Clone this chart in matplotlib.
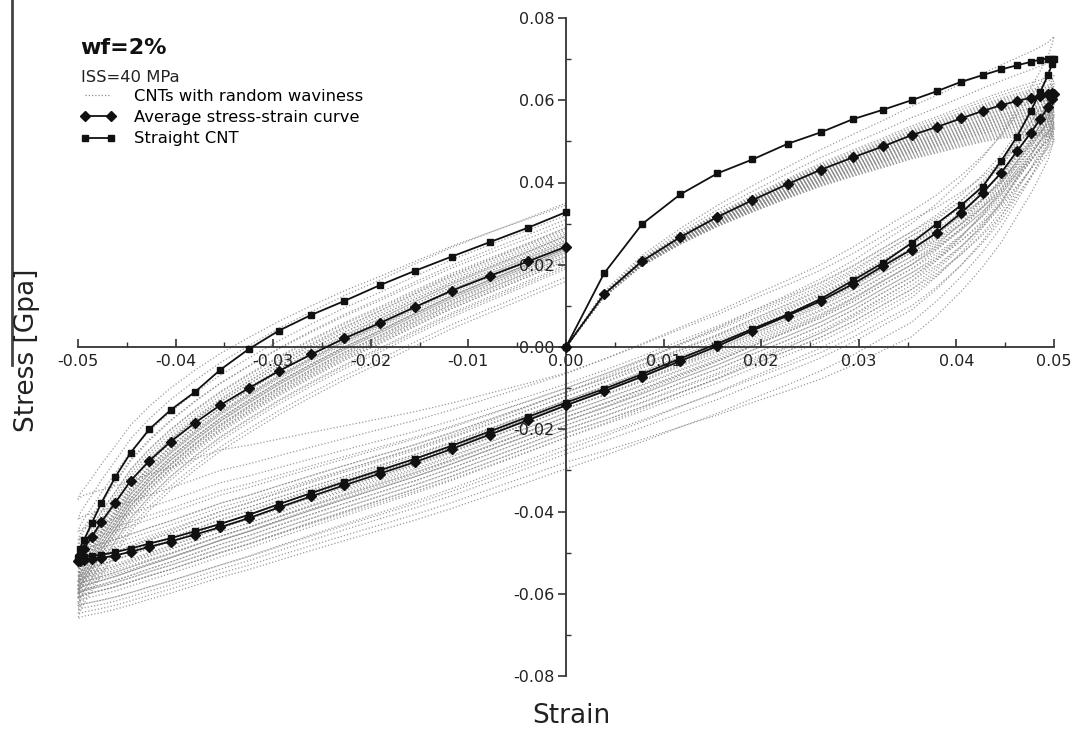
#!/usr/bin/env python3
"""
Hysteresis stress-strain loops of CNT composites (wf=2%, ISS=40 MPa).

Straight CNT, average curve and the fan of curves for CNTs with random waviness.
"""

import numpy as np
import matplotlib
matplotlib.use('Agg')
import matplotlib.pyplot as plt
from matplotlib.lines import Line2D
from matplotlib.ticker import MultipleLocator, FormatStrFormatter

# Strain path: 0 -> 0.05 -> -0.05 -> 0 (same sampling for every curve)
strain = [
    0.0, 0.0039, 0.0078, 0.0117, 0.0155, 0.0191, 0.0227, 0.0261, 0.0294, 0.0325,
    0.0354, 0.0380, 0.0405, 0.0427, 0.0446, 0.0462, 0.0476, 0.0486, 0.0494, 0.0498, 0.0500,
    0.0498, 0.0494, 0.0486, 0.0476, 0.0462, 0.0446, 0.0427, 0.0405, 0.0380, 0.0354,
    0.0325, 0.0294, 0.0261, 0.0227, 0.0191, 0.0155, 0.0117, 0.0078, 0.0039, 0.0,
    -0.0039, -0.0078, -0.0117, -0.0155, -0.0191, -0.0227, -0.0261, -0.0294, -0.0325, -0.0354,
    -0.0380, -0.0405, -0.0427, -0.0446, -0.0462, -0.0476, -0.0486, -0.0494, -0.0498, -0.0500,
    -0.0498, -0.0494, -0.0486, -0.0476, -0.0462, -0.0446, -0.0427, -0.0405, -0.0380, -0.0354,
    -0.0325, -0.0294, -0.0261, -0.0227, -0.0191, -0.0155, -0.0117, -0.0078, -0.0039, 0.0,
]

# Straight CNT (squares)
straight_stress = [
    0.0, 0.0179, 0.0299, 0.0371, 0.0422, 0.0456, 0.0494, 0.0522, 0.0554, 0.0577,
    0.0600, 0.0622, 0.0645, 0.0661, 0.0675, 0.0685, 0.0693, 0.0699, 0.0701, 0.0701, 0.0700,
    0.0688, 0.0662, 0.0621, 0.0573, 0.0511, 0.0453, 0.0390, 0.0345, 0.0300, 0.0253,
    0.0205, 0.0162, 0.0117, 0.0079, 0.0044, 0.0008, -0.0028, -0.0066, -0.0102, -0.0135,
    -0.0170, -0.0205, -0.0240, -0.0272, -0.0300, -0.0328, -0.0355, -0.0382, -0.0408, -0.0430,
    -0.0448, -0.0465, -0.0478, -0.0490, -0.0499, -0.0505, -0.0508, -0.0510, -0.0512, -0.0513,
    -0.0490, -0.0470, -0.0429, -0.0379, -0.0317, -0.0257, -0.0200, -0.0153, -0.0109, -0.0055,
    -0.0005, 0.0040, 0.0078, 0.0112, 0.0150, 0.0185, 0.0220, 0.0255, 0.0290, 0.0328,
]

# Average stress-strain curve (diamonds)
average_stress = [
    0.0, 0.0128, 0.0209, 0.0267, 0.0316, 0.0357, 0.0396, 0.0431, 0.0461, 0.0488,
    0.0515, 0.0535, 0.0556, 0.0574, 0.0588, 0.0598, 0.0606, 0.0611, 0.0615, 0.0617, 0.0615,
    0.0604, 0.0583, 0.0555, 0.0520, 0.0476, 0.0424, 0.0375, 0.0326, 0.0278, 0.0237,
    0.0197, 0.0153, 0.0112, 0.0076, 0.0040, 0.0002, -0.0034, -0.0072, -0.0108, -0.0142,
    -0.0178, -0.0213, -0.0248, -0.0280, -0.0308, -0.0336, -0.0363, -0.0390, -0.0416, -0.0438,
    -0.0456, -0.0473, -0.0486, -0.0498, -0.0507, -0.0513, -0.0516, -0.0518, -0.0520, -0.0520,
    -0.0505, -0.0490, -0.0462, -0.0425, -0.0379, -0.0325, -0.0277, -0.0230, -0.0184, -0.0141,
    -0.0100, -0.0058, -0.0018, 0.0021, 0.0058, 0.0097, 0.0137, 0.0173, 0.0208, 0.0244,
]

# Wavy CNT curves, stress read at points along the loop:
# +0.05 (peak), 0.0354 unloading, 0 unloading, -0.0354 unloading, -0.05, 0 after reloading
gray_peak = [0.0755, 0.0700, 0.0660, 0.0650, 0.0640, 0.0635, 0.0630, 0.0625, 0.0620, 0.0615,
             0.0610, 0.0605, 0.0600, 0.0598, 0.0595, 0.0590, 0.0585, 0.0582, 0.0580, 0.0575,
             0.0572, 0.0570, 0.0565, 0.0562, 0.0560, 0.0555, 0.0552, 0.0550, 0.0545, 0.0542,
             0.0540, 0.0535, 0.0532, 0.0530, 0.0525, 0.0520, 0.0515, 0.0510, 0.0505, 0.0500]
gray_unload = [0.0300, 0.0330, 0.0280, 0.0250, 0.0200, 0.0270, 0.0160, 0.0230, 0.0260, 0.0190,
               0.0240, 0.0120, 0.0220, 0.0280, 0.0170, 0.0210, 0.0250, 0.0140, 0.0200, 0.0310,
               0.0230, 0.0090, 0.0180, 0.0240, 0.0150, 0.0270, 0.0200, 0.0060, 0.0170, 0.0220,
               0.0130, 0.0250, 0.0190, 0.0100, 0.0210, 0.0160, 0.0230, 0.0025, 0.0180, 0.0140]
gray_mid = [-0.0110, -0.0065, -0.0100, -0.0130, -0.0180, -0.0120, -0.0220, -0.0150, -0.0110, -0.0170,
            -0.0140, -0.0250, -0.0150, -0.0090, -0.0190, -0.0160, -0.0120, -0.0210, -0.0170, -0.0063,
            -0.0140, -0.0260, -0.0180, -0.0130, -0.0200, -0.0100, -0.0160, -0.0296, -0.0190, -0.0140,
            -0.0220, -0.0110, -0.0170, -0.0240, -0.0150, -0.0200, -0.0130, -0.0280, -0.0180, -0.0210]
gray_lower = [-0.0400, -0.0300, -0.0360, -0.0420, -0.0470, -0.0390, -0.0500, -0.0440, -0.0380, -0.0460,
              -0.0430, -0.0530, -0.0450, -0.0330, -0.0480, -0.0450, -0.0400, -0.0500, -0.0460, -0.0250,
              -0.0420, -0.0540, -0.0470, -0.0410, -0.0490, -0.0350, -0.0460, -0.0560, -0.0480, -0.0430,
              -0.0510, -0.0380, -0.0470, -0.0530, -0.0440, -0.0490, -0.0410, -0.0550, -0.0470, -0.0500]
gray_trough = [-0.0540, -0.0420, -0.0480, -0.0560, -0.0590, -0.0510, -0.0610, -0.0570, -0.0500, -0.0580,
               -0.0550, -0.0630, -0.0560, -0.0450, -0.0600, -0.0570, -0.0520, -0.0610, -0.0580, -0.0370,
               -0.0540, -0.0640, -0.0590, -0.0530, -0.0600, -0.0470, -0.0570, -0.0660, -0.0600, -0.0550,
               -0.0620, -0.0500, -0.0580, -0.0630, -0.0560, -0.0600, -0.0530, -0.0650, -0.0590, -0.0610]
gray_end = [0.0290, 0.0350, 0.0310, 0.0270, 0.0240, 0.0280, 0.0220, 0.0255, 0.0285, 0.0240,
            0.0260, 0.0200, 0.0250, 0.0320, 0.0230, 0.0245, 0.0275, 0.0215, 0.0240, 0.0345,
            0.0265, 0.0190, 0.0235, 0.0270, 0.0225, 0.0300, 0.0250, 0.0160, 0.0230, 0.0260,
            0.0210, 0.0290, 0.0240, 0.0195, 0.0255, 0.0220, 0.0270, 0.0170, 0.0235, 0.0210]

xticks = [-0.05, -0.04, -0.03, -0.02, -0.01, 0.0, 0.01, 0.02, 0.03, 0.04, 0.05]
yticks = [-0.08, -0.06, -0.04, -0.02, 0.0, 0.02, 0.04, 0.06, 0.08]


def main():
    W, H = 1073, 729
    fig = plt.figure(figsize=(W / 100, H / 100), dpi=100)
    # axes box = data range, spines drawn through the origin
    ax = fig.add_axes([78 / W, 1 - 676 / H, (1054 - 78) / W, (676 - 18) / H])

    x = np.array(strain)
    avg = np.array(average_stress)

    # Wavy CNT fan: average loop shape pinned to the values read for each curve
    read_idx = [0, 20, 30, 40, 50, 60, 80]
    idx = np.arange(len(x))
    for vals in zip(gray_peak, gray_unload, gray_mid, gray_lower, gray_trough, gray_end):
        offs = [0.0] + [v - avg[i] for v, i in zip(vals, read_idx[1:])]
        y = avg + np.interp(idx, read_idx, offs)
        ax.plot(x, y, color='#8a8a8a', linewidth=0.9, linestyle=(0, (1, 1.6)),
                alpha=0.85, zorder=1, clip_on=False)

    ax.plot(x, avg, color='#111111', linewidth=1.3, marker='D', markersize=5,
            zorder=3, clip_on=False)
    ax.plot(x, straight_stress, color='#111111', linewidth=1.3, marker='s', markersize=5,
            zorder=4, clip_on=False)

    ax.set_xlim(-0.05, 0.05)
    ax.set_ylim(-0.08, 0.08)

    # Spines through the origin
    for side in ['top', 'right']:
        ax.spines[side].set_visible(False)
    ax.spines['left'].set_position(('data', 0))
    ax.spines['bottom'].set_position(('data', 0))
    for side in ['left', 'bottom']:
        ax.spines[side].set_color('#333333')
        ax.spines[side].set_linewidth(1.3)

    ax.set_xticks(xticks)
    ax.set_yticks(yticks)
    ax.xaxis.set_minor_locator(MultipleLocator(0.005))
    ax.yaxis.set_minor_locator(MultipleLocator(0.01))
    ax.xaxis.set_major_formatter(FormatStrFormatter('%.2f'))
    ax.yaxis.set_major_formatter(FormatStrFormatter('%.2f'))
    ax.tick_params(axis='x', which='both', direction='in', colors='#333333', labelcolor='#222222',
                   labelsize=11.5, pad=5)
    ax.tick_params(axis='x', which='major', length=6, width=1.2)
    ax.tick_params(axis='x', which='minor', length=3.5, width=1.0)
    ax.tick_params(axis='y', which='both', colors='#333333', labelcolor='#222222',
                   labelsize=11.5, pad=2)
    ax.tick_params(axis='y', which='major', direction='out', length=6, width=1.2)
    ax.tick_params(axis='y', which='minor', direction='in', length=3.5, width=1.0)
    ax.patch.set_visible(False)

    # Axis titles
    fig.text(571 / W, 1 - 723 / H, 'Strain', fontsize=19, ha='center', va='baseline', color='#222222')
    fig.text(27 / W, 1 - 350 / H, 'Stress [Gpa]', fontsize=19, rotation=90,
             ha='center', va='center', color='#222222')

    # Frame fragment at the left edge
    fig.add_artist(Line2D([12 / W, 12 / W], [1.0, 1 - 365 / H], transform=fig.transFigure,
                          color='#444444', linewidth=2))

    # Legend block
    fig.text(80 / W, 1 - 48 / H, 'wf=2%', fontsize=16, fontweight='bold',
             ha='left', va='center', color='#111111')
    fig.text(81 / W, 1 - 77 / H, 'ISS=40 MPa', fontsize=11.8, ha='left', va='center', color='#222222')

    legend_elements = [
        Line2D([0], [0], color='#8a8a8a', linewidth=0.9, linestyle=(0, (1, 1.6)),
               label='CNTs with random waviness'),
        Line2D([0], [0], color='#111111', linewidth=1.3, marker='D', markersize=5,
               label='Average stress-strain curve'),
        Line2D([0], [0], color='#111111', linewidth=1.3, marker='s', markersize=5,
               label='Straight CNT'),
    ]
    fig.legend(handles=legend_elements, loc='upper left',
               bbox_to_anchor=(80 / W, 1 - 89 / H), bbox_transform=fig.transFigure,
               frameon=False, fontsize=11.8, numpoints=2, handlelength=2.2,
               handletextpad=1.1, labelspacing=0.38, borderpad=0, borderaxespad=0)

    plt.savefig('out.png', dpi=100)


if __name__ == "__main__":
    main()
